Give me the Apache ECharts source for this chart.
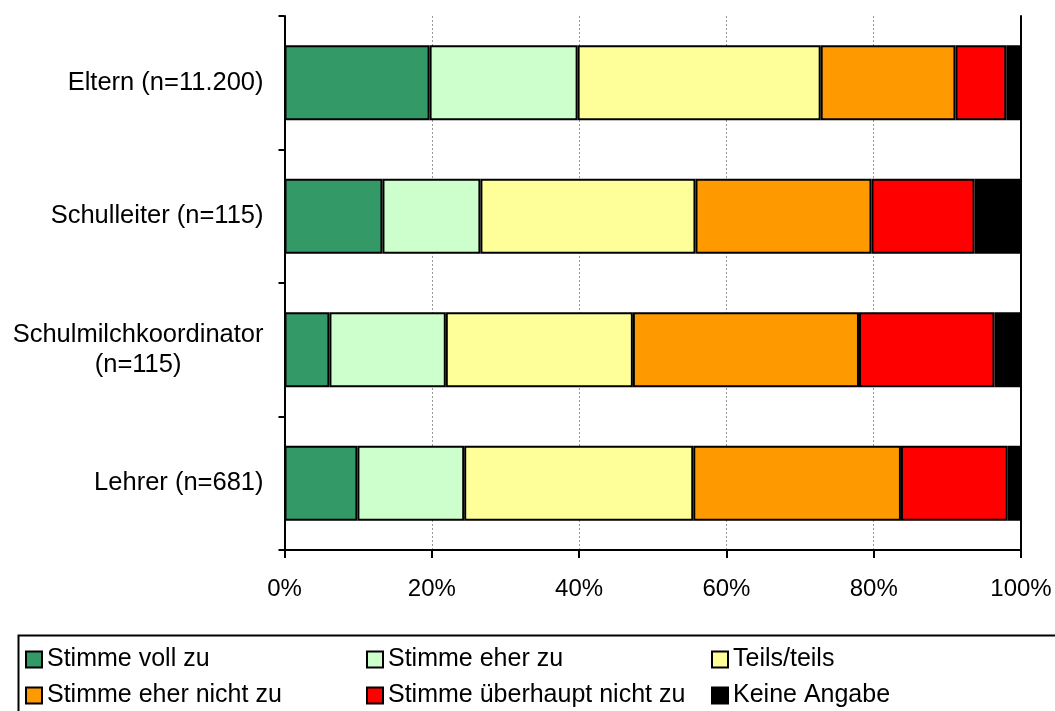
<!DOCTYPE html>
<html>
<head>
<meta charset="utf-8">
<script src="https://cdn.jsdelivr.net/npm/echarts@6/dist/echarts.min.js"></script>
<style>html,body{margin:0;padding:0;background:#fff}#c{width:1055px;height:711px}</style>
</head>
<body>
<div id="c"></div>
<script>
const categories = ['Eltern (n=11.200)', 'Schulleiter (n=115)', 'Schulmilchkoordinator\n(n=115)', 'Lehrer (n=681)'];
const seriesNames = ['Stimme voll zu', 'Stimme eher zu', 'Teils/teils', 'Stimme eher nicht zu', 'Stimme überhaupt nicht zu', 'Keine Angabe'];
const stimmeVollZu = [19.7, 13.3, 6.1, 9.9];
const stimmeEherZu = [20.1, 13.3, 15.8, 14.5];
const teilsTeils = [33.0, 29.2, 25.4, 31.1];
const stimmeEherNichtZu = [18.3, 23.9, 30.7, 28.2];
const stimmeUeberhauptNichtZu = [6.9, 14.0, 18.4, 14.5];
const keineAngabe = [2.0, 6.3, 3.6, 1.8];
const xTickLabels = ['0%', '20%', '40%', '60%', '80%', '100%'];

const values = [stimmeVollZu, stimmeEherZu, teilsTeils, stimmeEherNichtZu, stimmeUeberhauptNichtZu, keineAngabe];
const colors = ['#339966', '#CCFFCC', '#FFFF99', '#FF9900', '#FF0000', '#000000'];
const FONT = "'Liberation Sans', Arial, sans-serif";

const chart = echarts.init(document.getElementById('c'), null, {renderer: 'canvas'});

const legendPos = [
  {left: 25, top: 647}, {left: 366, top: 647}, {left: 711, top: 647},
  {left: 25, top: 683}, {left: 366, top: 683}, {left: 711, top: 683}
];

const option = {
  animation: false,
  backgroundColor: '#ffffff',
  textStyle: {fontFamily: FONT},
  grid: {left: 284.5, right: 34, top: 16, bottom: 161, containLabel: false},
  xAxis: {
    type: 'value', min: 0, max: 100, interval: 20,
    axisLine: {show: true, lineStyle: {color: '#000', width: 2}},
    axisTick: {show: true, length: 8, lineStyle: {color: '#000', width: 2}},
    axisLabel: {
      margin: 27, color: '#000', fontSize: 24, fontFamily: FONT,
      formatter: function (v) { return xTickLabels[Math.round(v / 20)]; }
    },
    splitLine: {show: true, lineStyle: {color: '#999999', width: 1, type: [2, 2]}}
  },
  yAxis: [{
    type: 'category', data: categories, inverse: true,
    axisLine: {show: true, lineStyle: {color: '#000', width: 2}},
    axisTick: {show: true, length: 6, inside: false, lineStyle: {color: '#000', width: 2}},
    axisLabel: {
      margin: 21, color: '#000', fontSize: 25.5, fontFamily: FONT, lineHeight: 30,
      formatter: function (v) {
        return v.split('\n').map(function (s) { return '{c|' + s + '}'; }).join('\n');
      },
      rich: {c: {align: 'center', fontSize: 25.5, fontFamily: FONT, color: '#000', lineHeight: 30}}
    },
    splitLine: {show: false}
  }, {
    type: 'category', data: categories, inverse: true, position: 'right',
    axisLine: {show: true, lineStyle: {color: '#000', width: 2}},
    axisTick: {show: false}, axisLabel: {show: false}, splitLine: {show: false}
  }],
  legend: legendPos.map(function (p, i) {
    return {
      data: [seriesNames[i]], left: p.left, top: p.top, orient: 'horizontal',
      padding: 0, itemWidth: 16, itemHeight: 16, itemGap: 0, itemTextGap: 8,
      icon: 'rect', selectedMode: false,
      itemStyle: {borderColor: '#000', borderWidth: 2},
      textStyle: {fontSize: 25, fontFamily: FONT, color: '#000'}
    };
  }),
  graphic: [{
    type: 'rect', left: 16, top: 633, silent: true,
    shape: {x: 0, y: 0, width: 1100, height: 120},
    style: {fill: 'none', stroke: '#000', lineWidth: 2}
  }],
  series: seriesNames.map(function (name, i) {
    return {
      name: name, type: 'bar', stack: 'total', data: values[i], barWidth: 75,
      itemStyle: {color: colors[i], borderColor: '#000', borderWidth: 2},
      emphasis: {disabled: true}
    };
  })
};
chart.setOption(option);
</script>
</body>
</html>
